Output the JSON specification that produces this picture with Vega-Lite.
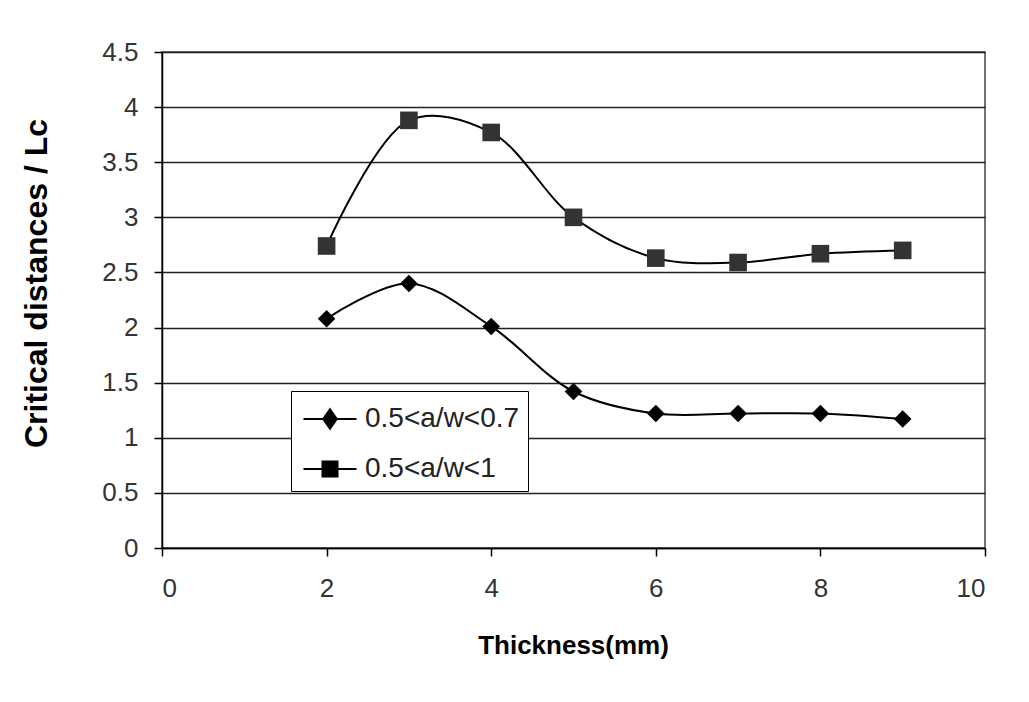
{
  "$schema": "https://vega.github.io/schema/vega-lite/v6.json",
  "width": 823,
  "height": 496,
  "autosize": "none",
  "padding": {"left": 162, "top": 52, "right": 44, "bottom": 154},
  "background": "white",
  "config": {
    "view": {"stroke": "#444", "strokeWidth": 1.5},
    "font": "Liberation Sans"
  },
  "data": {
    "values": [
      {"t": 2, "lc": 2.08, "s": "0.5<a/w<0.7"},
      {"t": 3, "lc": 2.40, "s": "0.5<a/w<0.7"},
      {"t": 4, "lc": 2.01, "s": "0.5<a/w<0.7"},
      {"t": 5, "lc": 1.42, "s": "0.5<a/w<0.7"},
      {"t": 6, "lc": 1.22, "s": "0.5<a/w<0.7"},
      {"t": 7, "lc": 1.22, "s": "0.5<a/w<0.7"},
      {"t": 8, "lc": 1.22, "s": "0.5<a/w<0.7"},
      {"t": 9, "lc": 1.17, "s": "0.5<a/w<0.7"},
      {"t": 2, "lc": 2.74, "s": "0.5<a/w<1"},
      {"t": 3, "lc": 3.88, "s": "0.5<a/w<1"},
      {"t": 4, "lc": 3.77, "s": "0.5<a/w<1"},
      {"t": 5, "lc": 3.00, "s": "0.5<a/w<1"},
      {"t": 6, "lc": 2.63, "s": "0.5<a/w<1"},
      {"t": 7, "lc": 2.59, "s": "0.5<a/w<1"},
      {"t": 8, "lc": 2.67, "s": "0.5<a/w<1"},
      {"t": 9, "lc": 2.70, "s": "0.5<a/w<1"}
    ]
  },
  "encoding": {
    "x": {
      "field": "t",
      "type": "quantitative",
      "scale": {"domain": [0, 10], "nice": false, "zero": false},
      "axis": {
        "title": "Thickness(mm)",
        "values": [0, 2, 4, 6, 8, 10],
        "grid": false,
        "tickSize": 8,
        "tickColor": "#000",
        "tickWidth": 1.5,
        "domainColor": "#000",
        "domainWidth": 1.5,
        "labelFont": "Liberation Sans",
        "labelFontSize": 26,
        "labelColor": "#333",
        "labelPadding": 19,
        "titleFont": "Liberation Sans",
        "titleFontSize": 26,
        "titleFontWeight": "bold",
        "titleColor": "#000",
        "titleX": 411,
        "titleY": 97,
        "titleAlign": "center",
        "titleBaseline": "middle"
      }
    },
    "y": {
      "field": "lc",
      "type": "quantitative",
      "scale": {"domain": [0, 4.5], "nice": false},
      "axis": {
        "title": "Critical distances / Lc",
        "values": [0, 0.5, 1, 1.5, 2, 2.5, 3, 3.5, 4, 4.5],
        "format": "~g",
        "grid": true,
        "gridColor": "#222",
        "gridWidth": 1.5,
        "tickSize": 8,
        "tickColor": "#000",
        "tickWidth": 1.5,
        "domainColor": "#000",
        "domainWidth": 1.5,
        "labelFont": "Liberation Sans",
        "labelFontSize": 26,
        "labelColor": "#333",
        "labelPadding": 16,
        "titleFont": "Liberation Sans",
        "titleFontSize": 32,
        "titleFontWeight": "bold",
        "titleColor": "#000",
        "titleX": -126,
        "titleY": 231,
        "titleAngle": -90,
        "titleAlign": "center",
        "titleBaseline": "middle"
      }
    }
  },
  "resolve": {"scale": {"shape": "independent"}, "legend": {"shape": "independent"}},
  "layer": [
    {
      "mark": {"type": "line", "interpolate": "catmull-rom", "strokeWidth": 2},
      "encoding": {
        "detail": {"field": "s", "type": "nominal"},
        "color": {"value": "#000"}
      }
    },
    {
      "mark": {"type": "point", "filled": true, "size": 310, "opacity": 1, "strokeWidth": 0},
      "encoding": {
        "shape": {
          "field": "s",
          "type": "nominal",
          "scale": {"domain": ["0.5<a/w<0.7", "0.5<a/w<1"], "range": ["diamond", "square"]},
          "legend": null
        },
        "fill": {
          "field": "s",
          "type": "nominal",
          "scale": {"domain": ["0.5<a/w<0.7", "0.5<a/w<1"], "range": ["#000000", "#333333"]},
          "legend": null
        }
      }
    },
    {
      "transform": [{"filter": "false"}],
      "mark": {"type": "point", "filled": true, "color": "#000", "opacity": 1},
      "encoding": {
        "shape": {
          "field": "s",
          "type": "nominal",
          "scale": {
            "domain": ["0.5<a/w<0.7", "0.5<a/w<1"],
            "range": [
              "M-0.775,-0.05H1.875V0.05H-0.775Z M0.55,-0.575L0.95,0L0.55,0.575L0.15,0Z",
              "M-0.775,-0.05H1.875V0.05H-0.775Z M0.125,-0.425H0.975V0.425H0.125Z"
            ]
          },
          "legend": {
            "orient": "none",
            "legendX": 129,
            "legendY": 339,
            "title": null,
            "fillColor": "white",
            "strokeColor": "#000",
            "padding": 8,
            "symbolSize": 1600,
            "symbolStrokeWidth": 0,
            "symbolFillColor": "#000",
            "symbolOpacity": 1,
            "labelFont": "Liberation Sans",
            "labelFontSize": 28,
            "labelColor": "#222",
            "labelOffset": 26,
            "rowPadding": 16
          }
        }
      }
    }
  ]
}
